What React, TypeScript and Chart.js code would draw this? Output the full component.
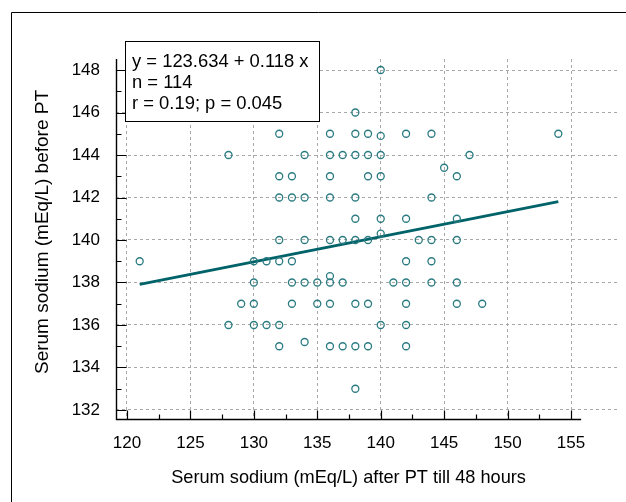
import React, { useEffect, useRef } from 'react';
import { Chart, registerables } from 'chart.js';

Chart.register(...registerables);

// Serum sodium after PT (x) and before PT (y)
const sodiumAfter = [
  140,
  138,
  132, 136, 138, 139, 142, 144, 154, 140,
  128, 134, 136, 137, 138, 139, 140, 147,
  145,
  132, 133, 136, 139, 140, 146,
  132, 133, 134, 136, 138, 144,
  138, 140, 142, 146,
  140,
  132, 134, 136, 137, 138, 139, 143, 144, 146,
  121, 130, 131, 132, 133, 142, 144,
  136,
  130, 133, 134, 135, 136, 137, 141, 142, 144, 146,
  129, 130, 133, 135, 136, 138, 139, 142, 146, 148,
  128, 130, 131, 132, 140, 142,
  134,
  132, 136, 137, 138, 139, 142,
  138,
];
const sodiumBefore = [
  148,
  146,
  145, 145, 145, 145, 145, 145, 145, 144.9,
  144, 144, 144, 144, 144, 144, 144, 144,
  143.4,
  143, 143, 143, 143, 143, 143,
  142, 142, 142, 142, 142, 142,
  141, 141, 141, 141,
  140.3,
  140, 140, 140, 140, 140, 140, 140, 140, 140,
  139, 139, 139, 139, 139, 139, 139,
  138.3,
  138, 138, 138, 138, 138, 138, 138, 138, 138, 138,
  137, 137, 137, 137, 137, 137, 137, 137, 137, 137,
  136, 136, 136, 136, 136, 136,
  135.2,
  135, 135, 135, 135, 135, 135,
  133,
];

// Regression line end points (y = 123.634 + 0.118 x)
const fitX = [121, 154];
const fitY = [137.912, 141.806];

const xTicks = [120, 125, 130, 135, 140, 145, 150, 155];
const xMinorTicks = [122.5, 127.5, 132.5, 137.5, 142.5, 147.5, 152.5];
const yTicks = [132, 134, 136, 138, 140, 142, 144, 146, 148];
const yMinorTicks = [133, 135, 137, 139, 141, 143, 145, 147];

const statsLines = ['y = 123.634 + 0.118 x', 'n = 114', 'r = 0.19; p = 0.045'];
const xTitle = 'Serum sodium (mEq/L) after PT till 48 hours';
const yTitle = 'Serum sodium (mEq/L) before PT';

const X_MIN = 119.133;
const X_MAX = 158.626;
const X_AXIS_END = 155.8;
const Y_MIN = 131.576;
const Y_MAX = 148.518;

const FONT = '"Liberation Sans", Arial, Helvetica, sans-serif';

const decorPlugin = {
  id: 'decor',
  afterDraw(chart: any) {
    const { ctx, chartArea: a, scales } = chart;
    const x = scales.x;
    const y = scales.y;
    ctx.save();
    ctx.strokeStyle = '#000';

    // outer frame
    ctx.lineWidth = 1;
    ctx.beginPath();
    ctx.moveTo(11.5, 502);
    ctx.lineTo(11.5, 12.5);
    ctx.lineTo(626, 12.5);
    ctx.stroke();

    // axes lines
    ctx.lineWidth = 1.4;
    const left = a.left + 0.5;
    const bottom = a.bottom + 0.5;
    const xEnd = x.getPixelForValue(X_AXIS_END);
    ctx.beginPath();
    ctx.moveTo(left, a.top);
    ctx.lineTo(left, bottom);
    ctx.lineTo(xEnd, bottom);
    ctx.stroke();

    // inward ticks
    ctx.lineWidth = 1.2;
    ctx.beginPath();
    yTicks.forEach((v) => {
      const py = Math.round(y.getPixelForValue(v)) + 0.5;
      ctx.moveTo(left, py);
      ctx.lineTo(left + 10, py);
    });
    yMinorTicks.forEach((v) => {
      const py = Math.round(y.getPixelForValue(v)) + 0.5;
      ctx.moveTo(left, py);
      ctx.lineTo(left + 5, py);
    });
    xTicks.forEach((v) => {
      const px = Math.round(x.getPixelForValue(v)) + 0.5;
      ctx.moveTo(px, bottom);
      ctx.lineTo(px, bottom - 9);
    });
    xMinorTicks.forEach((v) => {
      const px = Math.round(x.getPixelForValue(v)) + 0.5;
      ctx.moveTo(px, bottom);
      ctx.lineTo(px, bottom - 5);
    });
    ctx.stroke();

    // axis titles
    ctx.fillStyle = '#000';
    ctx.textAlign = 'center';
    ctx.textBaseline = 'middle';
    ctx.font = '18.2px ' + FONT;
    ctx.fillText(xTitle, (a.left + xEnd) / 2, 478);
    ctx.save();
    ctx.translate(42.5, 232);
    ctx.rotate(-Math.PI / 2);
    ctx.font = '19px ' + FONT;
    ctx.fillText(yTitle, 0, 0);
    ctx.restore();

    // statistics box
    ctx.fillStyle = '#fff';
    ctx.fillRect(125, 41, 194, 80);
    ctx.lineWidth = 1;
    ctx.strokeStyle = '#000';
    ctx.strokeRect(125.5, 41.5, 194, 80);
    ctx.fillStyle = '#000';
    ctx.font = '18.4px ' + FONT;
    ctx.textBaseline = 'alphabetic';
    ctx.textAlign = 'left';
    statsLines.forEach((t, i) => ctx.fillText(t, 132, 67 + i * 20.8));

    ctx.restore();
  },
};

export default function App() {
  const ref = useRef<HTMLCanvasElement | null>(null);

  useEffect(() => {
    if (!ref.current) return;
    Chart.defaults.font.family = FONT;
    Chart.defaults.color = '#000';
    const chart = new Chart(ref.current, {
      type: 'scatter',
      data: {
        datasets: [
          {
            label: 'patients',
            data: sodiumAfter.map((v, i) => ({ x: v, y: sodiumBefore[i] })),
            pointRadius: 3.5,
            pointHoverRadius: 3.5,
            pointBorderWidth: 1.3,
            pointBorderColor: '#2a7b80',
            pointBackgroundColor: 'rgba(0,0,0,0)',
            showLine: false,
          },
          {
            label: 'fit',
            data: fitX.map((v, i) => ({ x: v, y: fitY[i] })),
            showLine: true,
            borderColor: '#00636a',
            borderWidth: 3,
            pointRadius: 0,
            pointHoverRadius: 0,
          },
        ],
      },
      options: {
        animation: false,
        responsive: false,
        devicePixelRatio: 1,
        layout: { padding: { left: 0, right: 9, top: 59, bottom: 0 } },
        plugins: {
          legend: { display: false },
          tooltip: { enabled: false },
        },
        scales: {
          x: {
            type: 'linear',
            min: X_MIN,
            max: X_MAX,
            afterBuildTicks: (s: any) => {
              s.ticks = xTicks.map((value) => ({ value }));
            },
            afterFit: (s: any) => {
              s.height = 83;
            },
            ticks: {
              font: { size: 17 },
              color: '#000',
              padding: 14,
              maxRotation: 0,
              autoSkip: false,
            },
            grid: { drawTicks: false, color: '#a8a8a8', lineWidth: 1 },
            border: { display: false, dash: [3, 3] },
            title: { display: false },
          },
          y: {
            type: 'linear',
            min: Y_MIN,
            max: Y_MAX,
            afterBuildTicks: (s: any) => {
              s.ticks = yTicks.map((value) => ({ value }));
            },
            afterFit: (s: any) => {
              s.width = 116;
            },
            ticks: {
              font: { size: 17 },
              color: '#000',
              padding: 16,
              autoSkip: false,
            },
            grid: { drawTicks: false, color: '#a8a8a8', lineWidth: 1 },
            border: { display: false, dash: [3, 3] },
            title: { display: false },
          },
        },
      },
      plugins: [decorPlugin],
    });
    return () => chart.destroy();
  }, []);

  return (
    <div style={{ position: 'absolute', left: 0, top: 0, width: 626, height: 502, background: '#fff' }}>
      <canvas ref={ref} width={626} height={502} style={{ display: 'block' }} />
    </div>
  );
}
